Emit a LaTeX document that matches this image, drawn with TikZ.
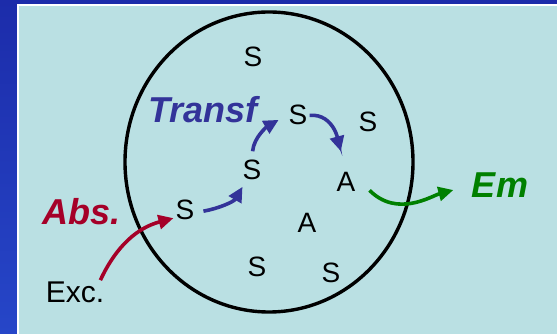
\documentclass[tikz,border=0pt]{standalone}
\usepackage{fontspec}
\setmainfont{Liberation Sans}
\usetikzlibrary{arrows.meta}
\definecolor{bgcyan}{RGB}{186,224,227}
\definecolor{frameblue}{RGB}{28,44,170}
\definecolor{framelight}{RGB}{38,70,200}
\definecolor{absred}{RGB}{165,0,40}
\definecolor{transblue}{RGB}{51,51,153}
\definecolor{emgreen}{RGB}{0,128,0}
\begin{document}
\begin{tikzpicture}[x=1pt,y=1pt,
    mol/.style={font=\fontsize{28}{28}\selectfont,inner sep=2pt,anchor=base},
    lbl/.style={font=\fontsize{36}{36}\selectfont\bfseries\itshape,inner sep=2pt,anchor=base},
    proc/.style={line width=3.6pt,-{Triangle[length=15pt,width=14pt]}}]
      \useasboundingbox (0,0) rectangle (557,334);
      \shade[bottom color=framelight,top color=frameblue](0,0) rectangle (557,334);
      \fill[white](17,0) rectangle (557,330);
      \fill[bgcyan](19,0) rectangle (557,328);
      \draw[line width=3.4pt](269,172) ellipse [x radius=144,y radius=150];
      \node[mol] (s1) at (253,267) {S};
      \node[mol] (s2) at (298,209) {S};
      \node[mol] (s3) at (368,202) {S};
      \node[mol] (s4) at (252,154) {S};
      \node[mol] (s5) at (185,114) {S};
      \node[mol] (s6) at (257,57) {S};
      \node[mol] (s7) at (331,51) {S};
      \node[mol] (a1) at (346,142) {A};
      \node[mol] (a2) at (307,101) {A};
      \node[mol,font=\fontsize{30}{30}\selectfont] (exc) at (75,31) {Exc.};
      \node[lbl,absred] (abs) at (82,109) {Abs.};
      \node[lbl,transblue] (transf) at (203,211) {Transf};
      \node[lbl,emgreen] (em) at (500,136) {Em};
      \draw[proc,absred]([xshift=-6pt]exc.north east) to[out=65,in=195] (s5.214);
      \draw[proc,transblue,shorten <=7pt,shorten >=5pt](s5.-10) to[out=10,in=240] (s4.240);
      \draw[proc,transblue,shorten <=7pt,shorten >=9pt](s4.north) to[out=85,in=210] (s2.west);
      \draw[proc,transblue,shorten >=20pt](s2.east) to[out=5,in=105] (a1.north);
      \draw[proc,emgreen,shorten >=17pt]([xshift=12pt,yshift=-8pt]a1.east) to[out=-45,in=195] (em.west);
    \end{tikzpicture}
\end{document}
